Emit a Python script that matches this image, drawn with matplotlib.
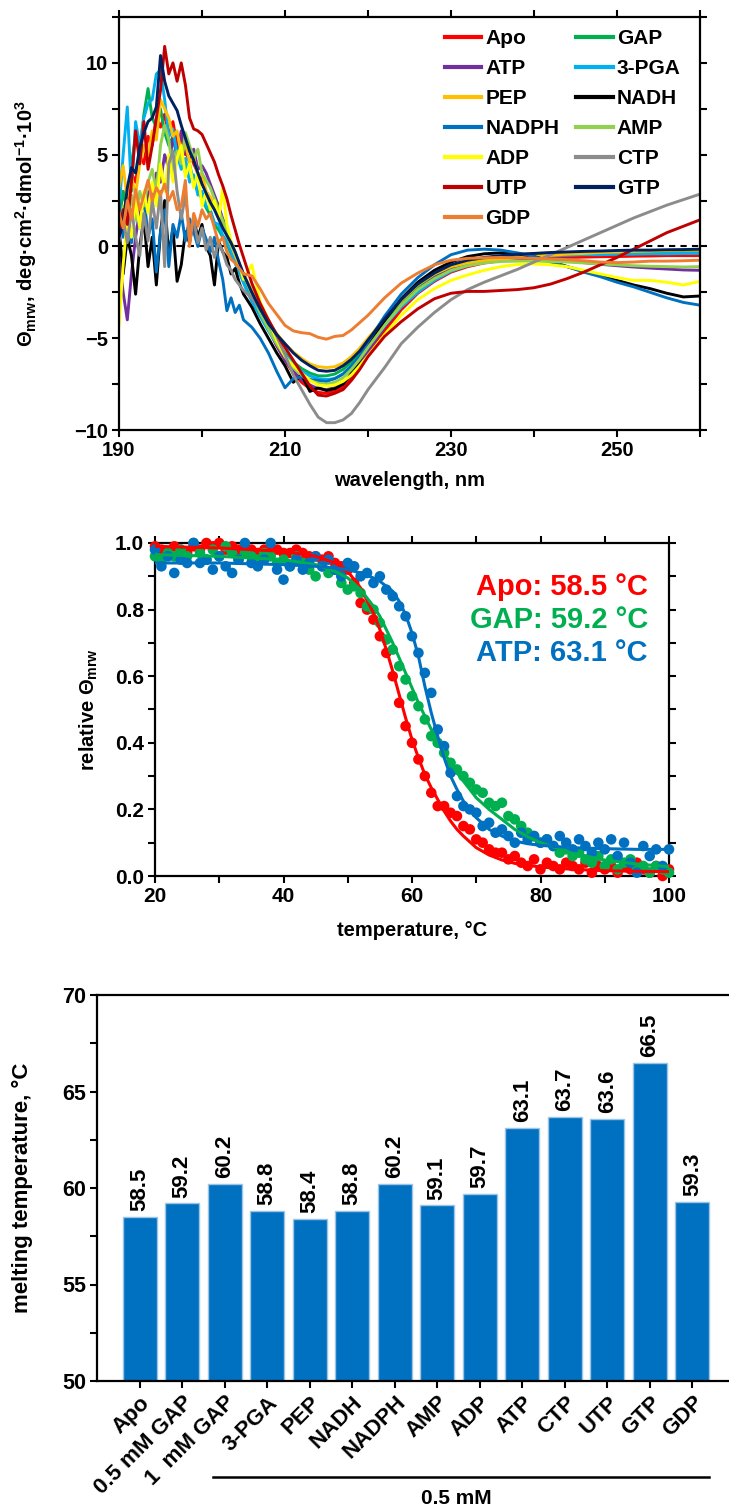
import numpy as np
import matplotlib
matplotlib.use('Agg')
import matplotlib.pyplot as plt
from matplotlib.lines import Line2D
from matplotlib.ticker import MultipleLocator, FormatStrFormatter

plt.rcParams['font.family'] = ['Liberation Sans', 'DejaVu Sans']
plt.rcParams['font.weight'] = 'bold'
plt.rcParams['axes.labelweight'] = 'bold'
plt.rcParams['mathtext.fontset'] = 'custom'
plt.rcParams['mathtext.rm'] = 'Liberation Sans:bold'
plt.rcParams['mathtext.bf'] = 'Liberation Sans:bold'
plt.rcParams['mathtext.it'] = 'Liberation Sans:bold:italic'
plt.rcParams['mathtext.default'] = 'bf'

# ---------------- Panel A: CD spectra ----------------
wavelength = np.concatenate([np.arange(190.0, 205.01, 0.5),
                             np.arange(206.0, 220.01, 1.0),
                             np.arange(222.0, 260.01, 2.0)])

cd_apo = [1.5, 3.0, 2.0, 4.0, 3.5, 5.0, 4.5, 6.0, 5.5, 7.0, 6.5, 7.2, 6.0, 6.8, 5.5, 6.0, 5.0, 5.2, 4.5, 4.0, 3.6, 3.0, 2.6, 2.1, 1.7, 1.2, 0.7, 0.2, -0.4, -1.0, -1.6,
          -2.6, -3.6, -4.5, -5.4, -6.2, -6.9, -7.4, -7.75, -7.95, -8.0, -7.9, -7.65, -7.2, -6.6, -5.9,
          -4.6, -3.45, -2.55, -1.9, -1.4, -1.1, -0.9, -0.78, -0.7, -0.65, -0.62, -0.6, -0.58, -0.56, -0.55, -0.53, -0.52, -0.5, -0.5, -0.5]
cd_gap = [1.5, 3.0, 2.0, 4.5, 6.0, 5.2, 7.2, 8.6, 7.0, 6.5, 7.5, 6.2, 5.5, 6.0, 4.8, 5.2, 4.0, 4.5, 3.5, 3.0, 2.6, 2.1, 1.7, 1.2, 0.9, 0.5, 0.1, -0.4, -0.9, -1.4, -1.9,
          -2.8, -3.7, -4.5, -5.2, -5.8, -6.3, -6.65, -6.9, -7.05, -7.05, -6.95, -6.7, -6.3, -5.8, -5.2,
          -4.05, -3.05, -2.2, -1.6, -1.15, -0.9, -0.72, -0.6, -0.5, -0.45, -0.4, -0.37, -0.35, -0.33, -0.3, -0.3, -0.28, -0.27, -0.26, -0.25]
cd_atp = [-0.5, -2.5, -4.0, -1.5, 0.5, 2.0, 1.2, 3.0, 2.5, 4.0, 3.5, 5.0, 4.2, 6.0, 5.0, 6.3, 5.2, 4.6, 5.3, 4.2, 4.4, 4.0, 3.4, 2.8, 2.2, 1.5, 0.9, 0.2, -0.4, -1.0, -1.6,
          -2.6, -3.6, -4.5, -5.4, -6.2, -6.8, -7.25, -7.55, -7.75, -7.8, -7.7, -7.45, -7.0, -6.4, -5.7,
          -4.4, -3.25, -2.35, -1.7, -1.25, -1.0, -0.85, -0.76, -0.72, -0.72, -0.75, -0.8, -0.88, -0.97, -1.05, -1.12, -1.18, -1.23, -1.28, -1.3]
cd_pga = [2.0, 5.0, 7.6, 3.0, 6.8, 5.5, 7.0, 7.8, 8.0, 9.4, 9.6, 8.0, 6.0, 6.4, 5.0, 4.2, 4.8, 3.5, 3.9, 2.8, 3.0, 2.2, 2.0, 1.3, 1.2, 0.6, 0.3, -0.3, -0.9, -1.4, -2.0,
          -3.0, -3.8, -4.6, -5.3, -5.9, -6.4, -6.8, -7.05, -7.2, -7.25, -7.2, -6.95, -6.55, -6.0, -5.4,
          -4.3, -3.3, -2.5, -1.85, -1.35, -1.05, -0.85, -0.7, -0.6, -0.55, -0.5, -0.48, -0.45, -0.45, -0.42, -0.42, -0.4, -0.4, -0.38, -0.38]
cd_pep = [3.2, 4.4, 2.5, 3.8, 2.8, 4.5, 5.5, 4.8, 6.3, 5.8, 8.0, 7.5, 7.0, 6.0, 6.3, 5.0, 5.6, 4.6, 4.9, 3.8, 4.0, 3.0, 2.7, 2.2, 1.6, 1.2, 0.6, 0.1, -0.5, -1.0, -1.5,
          -2.4, -3.3, -4.1, -4.75, -5.3, -5.75, -6.1, -6.4, -6.55, -6.6, -6.55, -6.35, -6.0, -5.55, -5.0,
          -3.95, -2.95, -2.1, -1.5, -1.1, -0.9, -0.78, -0.7, -0.62, -0.55, -0.48, -0.42, -0.38, -0.33, -0.3, -0.27, -0.25, -0.22, -0.2, -0.2]
cd_nadh = [1.0, -1.5, 0.5, -0.5, -2.6, 0.0, 1.5, -1.1, 0.5, -2.1, 0.8, 2.5, -0.5, 1.0, -1.9, -1.0, 0.8, 0.2, 1.5, 0.5, 1.2, 0.0, -0.5, -2.1, 0.3, -0.3, -0.6, -1.5, -1.2, -2.0, -2.6,
           -3.3, -4.2, -5.0, -5.8, -6.5, -7.4, -7.0, -7.9, -7.7, -7.85, -7.75, -7.5, -6.9, -6.2, -5.4,
           -4.05, -2.85, -1.95, -1.3, -0.85, -0.55, -0.4, -0.35, -0.4, -0.55, -0.8, -1.1, -1.35, -1.6, -1.85, -2.1, -2.3, -2.55, -2.75, -2.7]
cd_nadph = [2.5, 0.5, 1.8, 0.2, 2.2, 1.0, 2.8, 0.5, 1.5, -1.4, 0.8, 2.0, -1.1, 1.2, 0.5, 1.8, 0.3, 1.5, 0.8, 0.0, 1.0, 0.4, -0.3, 0.5, -0.8, -1.8, -3.5, -2.8, -3.6, -3.2, -4.0,
            -4.4, -5.0, -5.8, -6.8, -7.7, -7.2, -7.1, -7.25, -7.3, -7.35, -7.2, -6.95, -6.5, -6.0, -5.2,
            -3.8, -2.6, -1.7, -1.0, -0.45, -0.2, -0.15, -0.2, -0.35, -0.55, -0.85, -1.1, -1.4, -1.65, -1.95, -2.2, -2.5, -2.8, -3.05, -3.2]
cd_amp = [0.8, 2.2, 1.0, 2.8, 1.5, 3.0, 2.2, 3.5, 4.2, 3.0, 5.5, 6.6, 5.8, 4.0, 5.2, 4.5, 6.2, 5.5, 4.8, 5.3, 4.0, 3.6, 3.2, 2.6, 2.0, 1.4, 0.8, 0.2, -0.4, -1.0, -1.6,
          -2.6, -3.6, -4.5, -5.3, -6.0, -6.6, -7.0, -7.3, -7.45, -7.5, -7.4, -7.15, -6.7, -6.15, -5.5,
          -4.3, -3.2, -2.35, -1.75, -1.3, -1.05, -0.9, -0.82, -0.8, -0.8, -0.82, -0.85, -0.9, -0.95, -1.0, -1.05, -1.08, -1.1, -1.12, -1.1]
cd_adp = [-4.3, -1.0, 1.5, 0.5, 2.5, 1.0, 3.0, 1.8, 3.5, 2.2, 4.5, 3.0, 5.0, 3.5, 4.8, 5.5, 3.8, 4.5, 3.2, 4.0, 2.2, 3.0, 2.0, 2.5, 1.5, 3.2, 1.2, 0.3, -0.3, -1.0, -1.8,
          -1.0, -3.0, -4.0, -5.1, -6.0, -6.5, -6.9, -7.3, -7.55, -7.6, -7.55, -7.35, -7.0, -6.5, -5.95,
          -4.8, -3.75, -2.9, -2.3, -1.85, -1.55, -1.3, -1.1, -0.98, -0.95, -1.0, -1.1, -1.3, -1.5, -1.7, -1.85, -1.85, -1.95, -2.1, -1.9]
cd_ctp = [0.3, 1.5, 0.2, 2.0, 0.5, -0.5, 1.8, 0.3, 2.5, 1.0, 3.0, -1.1, 4.5, 5.2, 3.0, 1.5, 2.8, 0.8, 1.5, 0.2, 1.0, -0.2, 0.5, -0.6, 0.2, -0.3, -1.0, -1.3, -1.8, -2.1, -2.4,
          -2.8, -3.4, -4.0, -4.9, -5.9, -7.0, -7.8, -8.6, -9.3, -9.6, -9.6, -9.45, -9.1, -8.5, -7.8,
          -6.6, -5.3, -4.4, -3.6, -2.9, -2.35, -1.95, -1.6, -1.25, -0.85, -0.45, -0.05, 0.35, 0.75, 1.15, 1.55, 1.9, 2.25, 2.55, 2.85]
cd_utp = [0.8, 2.0, 1.2, 3.5, 6.3, 4.5, 6.8, 4.2, 5.5, 7.0, 8.5, 10.9, 9.4, 10.0, 9.0, 10.0, 8.8, 7.0, 6.4, 6.3, 6.1, 5.6, 5.1, 4.6, 3.9, 3.3, 2.6, 1.7, 0.9, 0.1, -0.6,
          -2.0, -3.1, -4.0, -4.8, -5.5, -6.2, -6.9, -7.6, -8.1, -8.15, -8.0, -7.8, -7.3, -6.7, -6.0,
          -4.9, -4.1, -3.4, -2.85, -2.55, -2.45, -2.45, -2.4, -2.35, -2.25, -2.05, -1.75, -1.4, -1.0, -0.6, -0.15, 0.3, 0.75, 1.1, 1.45]
cd_gtp = [0.5, 1.2, 3.2, 4.3, 4.0, 5.4, 6.2, 6.8, 7.0, 7.6, 10.4, 9.0, 8.2, 7.8, 7.4, 6.6, 5.9, 5.2, 4.7, 4.0, 3.4, 2.9, 2.4, 2.0, 1.5, 1.0, 0.6, 0.2, -0.3, -0.9, -1.5,
          -2.5, -3.4, -4.2, -4.8, -5.3, -5.8, -6.2, -6.5, -6.75, -6.8, -6.75, -6.5, -6.15, -5.7, -5.1,
          -3.95, -2.9, -2.05, -1.45, -1.0, -0.75, -0.6, -0.5, -0.42, -0.38, -0.33, -0.3, -0.27, -0.25, -0.22, -0.2, -0.2, -0.18, -0.17, -0.15]
cd_gdp = [1.8, 1.0, 2.5, 1.5, 3.1, 2.0, 2.8, 3.6, 2.5, 3.2, 2.8, 3.4, 2.5, 3.0, 2.0, 2.2, 3.6, 0.0, 1.8, 1.1, 2.0, 1.5, 1.8, 1.0, 0.2, 0.5, -0.3, -0.7, -0.9, -1.2, -1.5,
          -1.6, -2.3, -3.1, -3.7, -4.3, -4.6, -4.7, -4.75, -4.95, -5.05, -4.9, -4.85, -4.55, -4.15, -3.75,
          -2.8, -2.0, -1.45, -1.0, -0.75, -0.65, -0.62, -0.6, -0.62, -0.65, -0.68, -0.72, -0.78, -0.85, -0.88, -0.85, -0.8, -0.8, -0.78, -0.75]

series_names = ['Apo', 'GAP', 'ATP', '3-PGA', 'PEP', 'NADH', 'NADPH', 'AMP', 'ADP', 'CTP', 'UTP', 'GTP', 'GDP']
series_values = [cd_apo, cd_gap, cd_atp, cd_pga, cd_pep, cd_nadh, cd_nadph, cd_amp, cd_adp, cd_ctp, cd_utp, cd_gtp, cd_gdp]
series_colors = ['#FF0000', '#00B050', '#7030A0', '#00B0F0', '#FFC000', '#000000', '#0070C0',
                 '#92D050', '#FFFF00', '#8C8C8C', '#C00000', '#002060', '#ED7D31']
legend_order = ['Apo', 'ATP', 'PEP', 'NADPH', 'ADP', 'UTP', 'GDP',
                'GAP', '3-PGA', 'NADH', 'AMP', 'CTP', 'GTP']

# ---------------- Panel B: thermal melting ----------------
temperature = np.arange(20, 101)
melt_apo = [0.99, 0.98, 0.97, 0.99, 0.98, 0.97, 0.99, 0.98, 1.00, 0.99, 1.00, 0.98, 0.99, 0.98, 0.97, 0.98, 0.97, 0.98, 0.97, 0.98,
            0.97, 0.97, 0.98, 0.97, 0.96, 0.96, 0.95, 0.96, 0.94, 0.93, 0.92, 0.88, 0.82, 0.80, 0.77, 0.72, 0.67, 0.60, 0.52, 0.45,
            0.40, 0.35, 0.30, 0.25, 0.21, 0.21, 0.19, 0.18, 0.15, 0.14, 0.11, 0.10, 0.08, 0.07, 0.07, 0.05, 0.06, 0.04, 0.03, 0.05,
            0.02, 0.04, 0.03, 0.02, 0.04, 0.03, 0.02, 0.04, 0.01, 0.03, 0.02, 0.03, 0.01, 0.03, 0.02, 0.04, 0.02, 0.01, 0.03, 0.00, 0.02]
melt_gap = [0.96, 0.95, 0.97, 0.96, 0.98, 0.96, 1.00, 0.97, 0.95, 0.98, 0.96, 0.99, 0.97, 0.95, 0.97, 0.96, 0.95, 0.97, 0.96, 0.94,
            0.95, 0.93, 0.96, 0.94, 0.92, 0.90, 0.93, 0.91, 0.92, 0.88, 0.86, 0.87, 0.85, 0.81, 0.80, 0.76, 0.71, 0.68, 0.63, 0.59,
            0.54, 0.51, 0.47, 0.42, 0.40, 0.37, 0.34, 0.32, 0.30, 0.28, 0.26, 0.25, 0.22, 0.21, 0.22, 0.18, 0.17, 0.15, 0.13, 0.12,
            0.10, 0.11, 0.09, 0.07, 0.08, 0.06, 0.07, 0.05, 0.04, 0.06, 0.03, 0.05, 0.02, 0.04, 0.05, 0.02, 0.03, 0.01, 0.03, 0.02, 0.01]
melt_atp = [0.98, 0.93, 0.96, 0.91, 0.95, 0.94, 1.00, 0.94, 0.95, 0.92, 0.96, 0.93, 0.91, 0.95, 1.00, 0.94, 0.93, 0.95, 1.00, 0.92,
            0.89, 0.93, 0.95, 0.92, 0.94, 0.96, 0.93, 0.95, 0.92, 0.90, 0.94, 0.93, 0.90, 0.91, 0.88, 0.90, 0.86, 0.84, 0.81, 0.78,
            0.72, 0.67, 0.61, 0.55, 0.44, 0.39, 0.31, 0.24, 0.21, 0.20, 0.19, 0.15, 0.16, 0.13, 0.14, 0.12, 0.10, 0.13, 0.11, 0.12,
            0.10, 0.11, 0.09, 0.12, 0.10, 0.08, 0.11, 0.09, 0.07, 0.10, 0.08, 0.11, 0.06, 0.10, 0.04, 0.01, 0.09, 0.06, 0.08, 0.03, 0.08]

fit_temperature = [20, 30, 40, 45, 48, 50, 52, 54, 55, 56, 57, 58, 59, 60, 61, 62, 63, 64, 65, 66, 67, 68, 70, 72, 74, 76, 78, 80, 85, 90, 95, 100]
fit_apo = [0.99, 0.985, 0.975, 0.96, 0.94, 0.915, 0.865, 0.79, 0.74, 0.68, 0.615, 0.545, 0.475, 0.41, 0.355, 0.305, 0.265, 0.23,
           0.195, 0.165, 0.14, 0.12, 0.085, 0.063, 0.048, 0.038, 0.032, 0.027, 0.02, 0.016, 0.014, 0.013]
fit_gap = [0.965, 0.96, 0.95, 0.935, 0.915, 0.895, 0.86, 0.81, 0.78, 0.74, 0.70, 0.655, 0.61, 0.565, 0.52, 0.48, 0.44, 0.405,
           0.37, 0.34, 0.31, 0.285, 0.235, 0.20, 0.17, 0.14, 0.118, 0.10, 0.068, 0.048, 0.036, 0.028]
fit_atp = [0.94, 0.94, 0.935, 0.93, 0.925, 0.92, 0.91, 0.895, 0.885, 0.87, 0.855, 0.825, 0.785, 0.73, 0.66, 0.57, 0.49, 0.42,
           0.355, 0.30, 0.26, 0.225, 0.175, 0.14, 0.12, 0.105, 0.097, 0.092, 0.085, 0.082, 0.08, 0.08]
melt_labels = ['Apo: 58.5 °C', 'GAP: 59.2 °C', 'ATP: 63.1 °C']
melt_colors = ['#FF0000', '#00B050', '#0070C0']

# ---------------- Panel C: melting temperatures ----------------
tm_categories = ['Apo', '0.5 mM GAP', '1  mM GAP', '3-PGA', 'PEP', 'NADH', 'NADPH', 'AMP',
                 'ADP', 'ATP', 'CTP', 'UTP', 'GTP', 'GDP']
tm_values = [58.5, 59.2, 60.2, 58.8, 58.4, 58.8, 60.2, 59.1, 59.7, 63.1, 63.7, 63.6, 66.5, 59.3]

W, H = 729, 1508
fig = plt.figure(figsize=(W / 100, H / 100), dpi=100)


def frac(left, top, right, bottom):
    return [left / W, 1 - bottom / H, (right - left) / W, (bottom - top) / H]


def style_axes(ax, fs):
    for s in ax.spines.values():
        s.set_linewidth(1.6)
    ax.tick_params(which='both', direction='out', width=1.5, labelsize=fs, pad=3)
    ax.tick_params(which='major', length=5)
    ax.tick_params(which='minor', length=5)
    for lab in ax.get_xticklabels() + ax.get_yticklabels():
        lab.set_fontweight('bold')


# ---- Panel A
ax1 = fig.add_axes(frac(119, 17, 700, 430))
handles = {}
for name, vals, col in zip(series_names, series_values, series_colors):
    ln, = ax1.plot(wavelength, vals, color=col, lw=2.1, solid_joinstyle='round', zorder=2)
    handles[name] = ln
ax1.axhline(0, color='black', lw=1.5, ls=(0, (3, 2.5)), zorder=1.5)
ax1.set_xlim(190, 260)
ax1.set_ylim(-10, 12.5)
ax1.set_xticks([190, 210, 230, 250])
ax1.set_xticks([200, 220, 240, 260], minor=True)
ax1.yaxis.set_major_locator(MultipleLocator(5))
ax1.yaxis.set_minor_locator(MultipleLocator(2.5))
style_axes(ax1, 14.5)
ax1.tick_params(which='both', top=True, right=True)
ax1.set_xlabel('wavelength, nm', fontsize=14.5, fontweight='bold')
ax1.set_ylabel(r'$\mathbf{\Theta}_{\mathbf{mrw}}$, deg·cm$^{\mathbf{2}}$·dmol$^{\mathbf{-1}}$·10$^{\mathbf{3}}$',
               fontsize=14.5, fontweight='bold')
ax1.yaxis.set_label_coords(-0.138, 0.5)
ax1.xaxis.set_label_coords(0.5, -0.1)
leg = ax1.legend([handles[n] for n in legend_order], legend_order, ncol=2,
                 loc='upper left', bbox_to_anchor=(445 / W, 1 - 29 / H), bbox_transform=fig.transFigure,
                 frameon=False, fontsize=15, handlelength=1.75, handletextpad=0.2,
                 columnspacing=0.8, labelspacing=0.53, borderpad=0, borderaxespad=0)
for t in leg.get_texts():
    t.set_fontweight('bold')
for lh in leg.get_lines():
    lh.set_linewidth(3.0)

# ---- Panel B
ax2 = fig.add_axes(frac(155, 543, 669, 876))
for dots, fit, col in [(melt_apo, fit_apo, melt_colors[0]), (melt_gap, fit_gap, melt_colors[1]),
                       (melt_atp, fit_atp, melt_colors[2])]:
    ax2.scatter(temperature, dots, s=58, color=col, edgecolors='none', zorder=3, clip_on=False)
    ax2.plot(fit_temperature, fit, color=col, lw=2.2, zorder=4)
ax2.set_xlim(20, 100)
ax2.set_ylim(0, 1.0)
ax2.xaxis.set_major_locator(MultipleLocator(20))
ax2.xaxis.set_minor_locator(MultipleLocator(10))
ax2.yaxis.set_major_locator(MultipleLocator(0.2))
ax2.yaxis.set_minor_locator(MultipleLocator(0.1))
ax2.yaxis.set_major_formatter(FormatStrFormatter('%.1f'))
style_axes(ax2, 15)
ax2.tick_params(which='both', top=True, right=True)
ax2.set_xlabel('temperature, °C', fontsize=14.5, fontweight='bold')
ax2.set_ylabel(r'relative $\mathbf{\Theta}_{\mathbf{mrw}}$', fontsize=14.5, fontweight='bold')
ax2.yaxis.set_label_coords(-0.107, 0.5)
ax2.xaxis.set_label_coords(0.5, -0.135)
for i, (lab, col) in enumerate(zip(melt_labels, melt_colors)):
    ax2.text(0.959, 0.868 - i * 0.099, lab, transform=ax2.transAxes, ha='right', va='center',
             fontsize=21, fontweight='bold', color=col)

# ---- Panel C
ax3 = fig.add_axes(frac(97, 995, 735, 1381))
xpos = np.arange(len(tm_categories))
ax3.bar(xpos, np.array(tm_values) - 50, bottom=50, width=0.8, color='#0070C0',
        edgecolor='#9DC3E6', linewidth=1.0, zorder=2)
for x, v in zip(xpos, tm_values):
    ax3.text(x, v + 0.3, f'{v:.1f}', rotation=90, ha='center', va='bottom',
             fontsize=16, fontweight='bold')
ax3.set_xlim(-1, len(tm_categories))
ax3.set_ylim(50, 70)
ax3.yaxis.set_major_locator(MultipleLocator(5))
ax3.yaxis.set_minor_locator(MultipleLocator(2.5))
ax3.set_xticks(xpos)
ax3.set_xticklabels(tm_categories, rotation=45, ha='right', rotation_mode='anchor')
style_axes(ax3, 15.5)
ax3.tick_params(axis='x', labelsize=16)
ax3.spines['right'].set_visible(False)
ax3.set_ylabel('melting temperature, °C', fontsize=16, fontweight='bold')
ax3.yaxis.set_label_coords(-0.1, 0.5)

fig.add_artist(Line2D([213 / W, 709 / W], [1 - 1477 / H, 1 - 1477 / H], color='black', lw=1.8))
fig.text(456 / W, 1 - 1499 / H, '0.5 mM', ha='center', va='center', fontsize=15, fontweight='bold')

fig.savefig('out.png', dpi=100)
